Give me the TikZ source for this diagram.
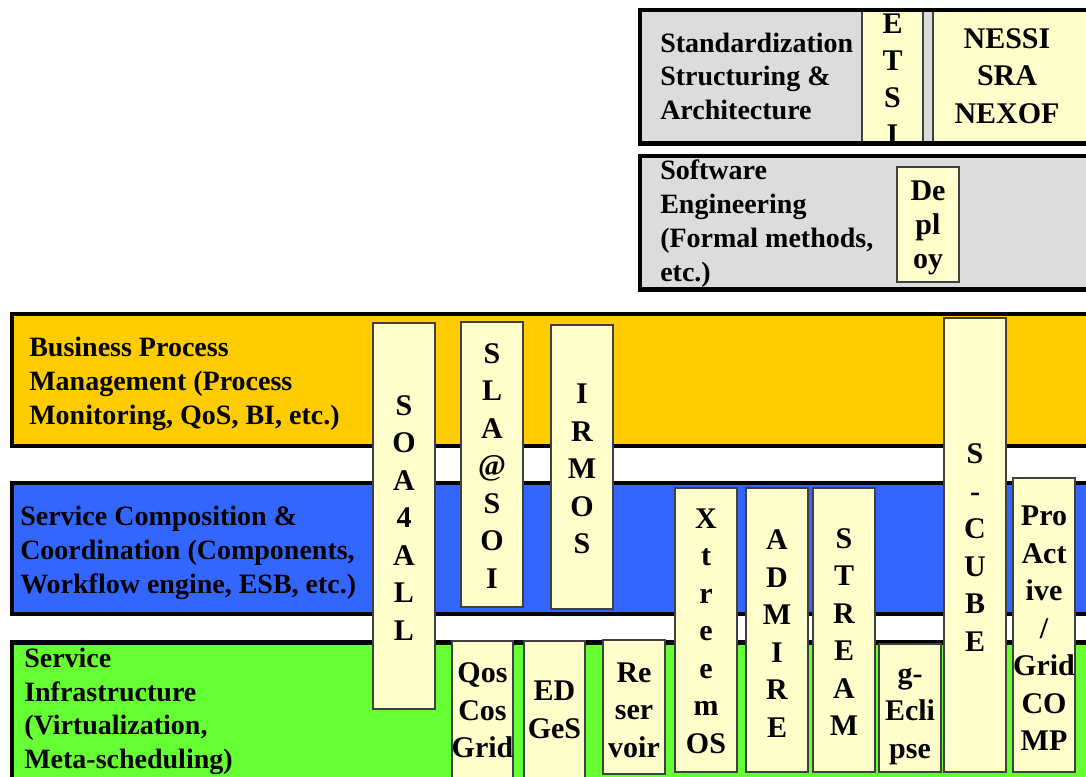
\documentclass[tikz,border=0pt]{standalone}
\usepackage{fontspec}
\setmainfont{Liberation Serif}
\definecolor{bandgray}{HTML}{DCDCDC}
\definecolor{bandorange}{HTML}{FFCC00}
\definecolor{bandblue}{HTML}{3366FF}
\definecolor{bandgreen}{HTML}{66FF33}
\definecolor{boxfill}{HTML}{FFFFCC}
\definecolor{boxline}{HTML}{404040}
\begin{document}
\begin{tikzpicture}[x=0.75pt,y=-0.75pt,
  band/.style={draw=black, line width=3.6pt, inner sep=0pt, outer sep=0pt, anchor=north west},
  bandfill/.style={inner sep=0pt, outer sep=0pt, anchor=north west},
  vbox/.style={draw=boxline, fill=boxfill, line width=1.1pt, inner sep=0pt, outer sep=0pt, anchor=north west},
  bandtext/.style={font=\fontsize{21}{25.3}\selectfont\bfseries, align=left, anchor=base west, inner sep=0pt},
  boxtext/.style={font=\fontsize{22.5}{28.1}\selectfont\bfseries, align=center, anchor=base, inner sep=0pt}]
\useasboundingbox (0,0) rectangle (1086,776);
\clip (0,0) rectangle (1086,776);
\fill[white] (0,0) rectangle (1086,776);

% ---- Standardization band (border drawn over its boxes)
\node[bandfill, fill=bandgray, minimum width=460*0.75pt, minimum height=133.5*0.75pt] (std) at (640,10) {};
\node[vbox, minimum width=61*0.75pt, minimum height=134*0.75pt] (etsi) at (862,9) {};
\node[vbox, minimum width=167*0.75pt, minimum height=134*0.75pt] (nessi) at (933,9) {};
\node[boxtext, font=\fontsize{22.5}{27.75}\selectfont\bfseries] (etsit) at (etsi.center |- 0,144) {E\\T\\S\\I};
\node[boxtext] (nessit) at (1007,123) {NESSI\\SRA\\NEXOF};
\draw[black, line width=3.6pt] (std.north west) rectangle (std.south east);
\node[bandtext] (stdt) at (660,119.5) {Standardization\\Structuring \&\\Architecture};

% ---- Software Engineering band
\node[band, fill=bandgray, minimum width=460*0.75pt, minimum height=133.5*0.75pt] (sw) at (640,156) {};
\node[bandtext] (swt) at (660,281) {Software\\Engineering\\(Formal methods,\\etc.)};
\node[vbox, minimum width=62*0.75pt, minimum height=115*0.75pt] (deploy) at (897,167) {};
\node[boxtext, font=\fontsize{22.5}{25.5}\selectfont\bfseries] (deployt) at (deploy.center |- 0,268) {De\\pl\\oy};

% ---- Business Process Management band
\node[band, fill=bandorange, minimum width=1088*0.75pt, minimum height=132*0.75pt] (bpm) at (12,314) {};
\node[bandtext] (bpmt) at (29,424.4) {Business Process\\Management (Process\\Monitoring, QoS, BI, etc.)};

% ---- Service Composition band
\node[band, fill=bandblue, minimum width=1088*0.75pt, minimum height=131*0.75pt] (scc) at (12,483) {};
\node[bandtext] (scct) at (20,593) {Service Composition \&\\Coordination (Components,\\Workflow engine, ESB, etc.)};

% ---- Service Infrastructure band
\node[band, fill=bandgreen, minimum width=1088*0.75pt, minimum height=160*0.75pt] (inf) at (12,642.5) {};
\node[bandtext] (inft) at (24,768.5) {Service\\Infrastructure\\(Virtualization,\\Meta-scheduling)};

% ---- Project boxes
\node[vbox, minimum width=62*0.75pt, minimum height=386*0.75pt] (soa) at (373,323) {};
\node[boxtext] (soat) at (soa.center |- 0,640) {S\\O\\A\\4\\A\\L\\L};

\node[vbox, minimum width=62*0.75pt, minimum height=285*0.75pt] (sla) at (461,322) {};
\node[boxtext] (slat) at (sla.center |- 0,588) {S\\L\\A\\@\\S\\O\\I};

\node[vbox, minimum width=62*0.75pt, minimum height=284*0.75pt] (irmos) at (551,325) {};
\node[boxtext] (irmost) at (irmos.center |- 0,553.5) {I\\R\\M\\O\\S};

\node[vbox, minimum width=61*0.75pt, minimum height=150*0.75pt] (qcg) at (452,641) {};
\node[boxtext] (qcgt) at (qcg.north |- 0,757.5) {Qos\\Cos\\Grid};

\node[vbox, minimum width=61*0.75pt, minimum height=150*0.75pt] (edges) at (524,641) {};
\node[boxtext] (edgest) at (edges.north |- 0,738) {ED\\GeS};

\node[vbox, minimum width=62*0.75pt, minimum height=134*0.75pt] (res) at (603,640) {};
\node[boxtext] (rest) at (res.center |- 0,757) {Re\\ser\\voir};

\node[vbox, minimum width=62*0.75pt, minimum height=284*0.75pt] (xos) at (675,488) {};
\node[boxtext] (xost) at (xos.center |- 0,753) {X\\t\\r\\e\\e\\m\\OS};

\node[vbox, minimum width=62*0.75pt, minimum height=284*0.75pt] (admire) at (746,488) {};
\node[boxtext] (admiret) at (admire.center |- 0,737) {A\\D\\M\\I\\R\\E};

\node[vbox, minimum width=62*0.75pt, minimum height=284*0.75pt] (stream) at (813,488) {};
\node[boxtext] (streamt) at (stream.center |- 0,735.5) {S\\T\\R\\E\\A\\M};

\node[vbox, minimum width=62*0.75pt, minimum height=128*0.75pt] (gecl) at (879,644) {};
\node[boxtext] (geclt) at (gecl.center |- 0,758) {g-\\Ecli\\pse};

\node[vbox, minimum width=62*0.75pt, minimum height=454*0.75pt] (scube) at (944,318) {};
\node[boxtext] (scubet) at (scube.center |- 0,651) {S\\-\\C\\U\\B\\E};

\node[vbox, minimum width=62*0.75pt, minimum height=294*0.75pt] (pro) at (1013,478) {};
\node[boxtext] (prot) at (pro.center |- 0,750.5) {Pro\\Act\\ive\\/\\Grid\\CO\\MP};
\end{tikzpicture}
\end{document}
